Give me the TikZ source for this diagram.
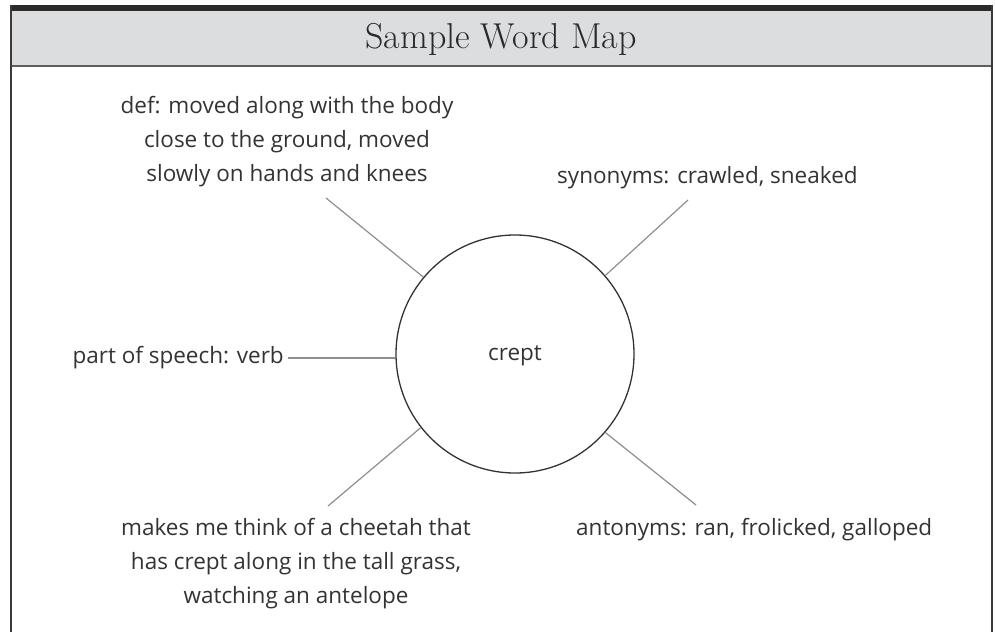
\documentclass[tikz,border=0pt]{standalone}
\usepackage{fontspec}
\newfontfamily\handfont{Open Sans}
\newfontfamily\titlefont{Latin Modern Roman}
\definecolor{headgray}{HTML}{DCDDDF}
\definecolor{barcol}{HTML}{2A2A2A}
\definecolor{framecol}{HTML}{3A3A3A}
\definecolor{headline}{HTML}{5E5E5E}
\definecolor{linkcol}{HTML}{8E8E8E}
\definecolor{inkcol}{HTML}{333333}
\tikzset{
  wordtext/.style={text=inkcol, inner sep=0pt, align=center, font=\handfont\fontsize{22.5}{34}\selectfont},
  hub/.style={draw=inkcol, line width=1.3pt, circle, minimum size=238pt, inner sep=0pt},
  link/.style={draw=linkcol, line width=1.2pt},
  frameline/.style={draw=framecol, line width=1.5pt},
}
\begin{document}
\begin{tikzpicture}[x=1pt,y=-1pt]
\useasboundingbox (0,0) rectangle (995,632);
% frame
\fill[headgray] (10,10) rectangle (992,65);
\fill[barcol] (10,5) rectangle (993,10.5);
\draw[draw=headline, line width=2pt] (10,65.5) -- (992,65.5);
\draw[frameline] (10.75,5) -- (10.75,632);
\draw[frameline] (992,5) -- (992,632);
\node[text=barcol, font=\titlefont\fontsize{36}{40}\selectfont, inner sep=0pt] (title) at (501,39) {Sample Word Map};
% hub
\node[hub] (c) at (515,354) {};
\node[wordtext] (hubtext) at (515,356) {crept};
% labels
\node[wordtext] (def) at (287,142) {def: moved along with the body\\close to the ground, moved\\slowly on hands and knees};
\node[wordtext, anchor=west] (syn) at (557,178) {synonyms: crawled, sneaked};
\node[wordtext, anchor=east] (pos) at (284,358) {part of speech: verb};
\node[wordtext] (think) at (296,564) {makes me think of a cheetah that\\has crept along in the tall grass,\\watching an antelope};
\node[wordtext, anchor=west] (ant) at (576,530) {antonyms: ran, frolicked, galloped};
% free ends
\coordinate (defend) at (326,198);
\coordinate (synend) at (688,200);
\coordinate (thinkend) at (328,506);
\coordinate (antend) at (696,505);
% connectors
\draw[link] (c.140.7) -- (defend);
\draw[link] (c.41) -- (synend);
\draw[link] ([xshift=4pt]pos.east) -- (c.west |- pos.east);
\draw[link] (c.218.6) -- (thinkend);
\draw[link] (c.319) -- (antend);
\end{tikzpicture}
\end{document}
